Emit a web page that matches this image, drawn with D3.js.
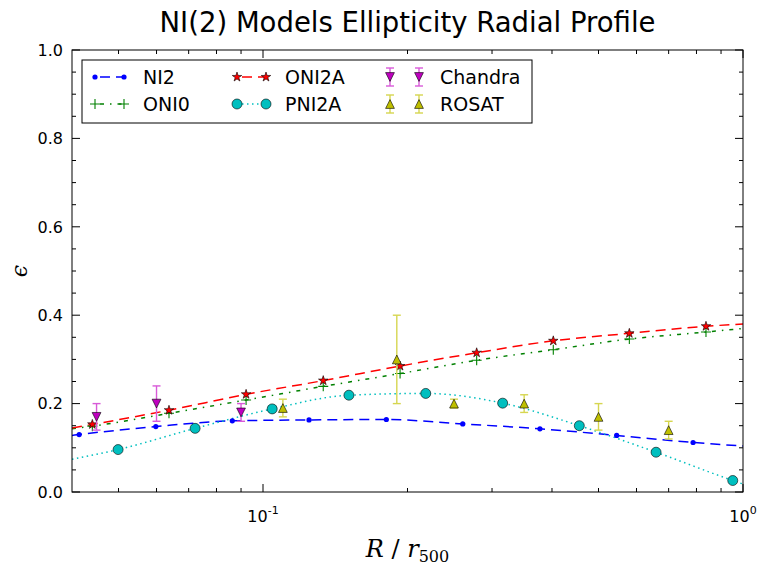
<!DOCTYPE html>
<html>
<head>
	<meta charset="utf-8">
	<title>NI(2) Models Ellipticity Radial Profile</title>
	<style>
		body {
			margin: 0;
			background: white;
		}
		svg {
			display: block;
			font-family: 'DejaVu Sans', sans-serif;
		}
	</style>
</head>
<body>
	<svg width='760' height='565'></svg>
<script src='https://d3js.org/d3.v7.min.js'></script>
<script>
	// ---- data ----
	// model curves: marker points (R / r500, ellipticity)
	let ni2R = [0.0414, 0.0598, 0.0863, 0.1247, 0.1807, 0.2607, 0.3775, 0.5455, 0.787]
	let ni2E = [0.130, 0.148, 0.161, 0.163, 0.164, 0.154, 0.143, 0.128, 0.112]
	let ni2Ends = [[0.04, 0.128], [1.0, 0.104]]

	let oni0R = [0.0441, 0.0637, 0.0922, 0.1335, 0.193, 0.2787, 0.4025, 0.5797, 0.8373]
	let oni0E = [0.149, 0.178, 0.208, 0.239, 0.268, 0.298, 0.322, 0.346, 0.362]
	let oni0Ends = [[0.04, 0.143], [1.0, 0.370]]

	let oni2aR = [0.0441, 0.0637, 0.0922, 0.1335, 0.193, 0.2787, 0.4025, 0.5797, 0.8373]
	let oni2aE = [0.153, 0.185, 0.221, 0.252, 0.285, 0.315, 0.342, 0.359, 0.375]
	let oni2aEnds = [[0.04, 0.145], [1.0, 0.380]]

	let pni2aR = [0.0499, 0.0722, 0.1045, 0.151, 0.2183, 0.3157, 0.456, 0.659, 0.952]
	let pni2aE = [0.096, 0.144, 0.188, 0.219, 0.223, 0.201, 0.150, 0.090, 0.026]
	let pni2aEnds = [[0.04, 0.074], [1.0, 0.018]]

	// observations with error bars
	let chandraR = [0.045, 0.060, 0.090]
	let chandraE = [0.17, 0.20, 0.18]
	let chandraErr = [0.03, 0.04, 0.02]

	let rosatR = [0.11, 0.19, 0.25, 0.35, 0.50, 0.70]
	let rosatE = [0.19, 0.30, 0.20, 0.20, 0.17, 0.14]
	let rosatErr = [0.02, 0.10, 0.01, 0.02, 0.03, 0.02]

	let yTicks = [0.0, 0.2, 0.4, 0.6, 0.8, 1.0]
	let yMinor = d3.range(0.05, 1.0, 0.05)
	let xTicks = [0.1, 1.0]
	let xTickLabels = ['-1', '0']
	let xMinor = [0.05, 0.06, 0.07, 0.08, 0.09, 0.2, 0.3, 0.4, 0.5, 0.6, 0.7, 0.8, 0.9]

	// ---- layout ----
	let pLeft = 72, pRight = 743, pTop = 50, pBottom = 492

	let svg = d3.select('svg')

	let x = d3.scaleLog().domain([0.04, 1]).range([pLeft, pRight])
	let y = d3.scaleLinear().domain([0, 1]).range([pBottom, pTop])

	svg.append('clipPath').attr('id', 'clip')
		.append('rect')
		.attr('x', pLeft).attr('y', pTop)
		.attr('width', pRight - pLeft).attr('height', pBottom - pTop)

	let plot = svg.append('g').attr('clip-path', 'url(#clip)')

	function pts(rs, es) {
		return rs.map((r, i) => [r, es[i]])
	}
	function withEnds(rs, es, ends) {
		return [ends[0]].concat(pts(rs, es), [ends[1]])
	}

	let line = d3.line()
		.x(d => x(d[0]))
		.y(d => y(d[1]))
		.curve(d3.curveMonotoneX)

	let models = [
		{name: 'NI2', data: withEnds(ni2R, ni2E, ni2Ends), color: '#0000ff', dash: '10,6', marker: 'dot'},
		{name: 'ONI0', data: withEnds(oni0R, oni0E, oni0Ends), color: '#008000', dash: '4,6,1.5,6', marker: 'plus'},
		{name: 'ONI2A', data: withEnds(oni2aR, oni2aE, oni2aEnds), color: '#ff0000', dash: '10,6', marker: 'star'},
		{name: 'PNI2A', data: withEnds(pni2aR, pni2aE, pni2aEnds), color: '#00bfbf', dash: '1.5,3.5', marker: 'circle'}
	]

	let obs = [
		{name: 'Chandra', data: chandraR.map((r, i) => [r, chandraE[i], chandraErr[i]]), color: '#bf00bf', bar: '#d85ad8', marker: 'down'},
		{name: 'ROSAT', data: rosatR.map((r, i) => [r, rosatE[i], rosatErr[i]]), color: '#bfbf00', bar: '#d6d650', marker: 'up'}
	]

	// draws one marker at px,py
	function drawMarker(g, type, px, py, color) {
		if (type == 'dot') {
			g.append('circle').attr('cx', px).attr('cy', py).attr('r', 2.6)
				.style('fill', color)
		} else if (type == 'plus') {
			g.append('path')
				.attr('d', `M${px - 5},${py}H${px + 5}M${px},${py - 5}V${py + 5}`)
				.style('stroke', color).style('stroke-width', 1.1).style('fill', 'none')
		} else if (type == 'star') {
			g.append('path')
				.attr('d', d3.symbol().type(d3.symbolStar).size(28)())
				.attr('transform', `translate(${px},${py})`)
				.style('fill', color).style('stroke', 'black').style('stroke-width', 0.6)
		} else if (type == 'circle') {
			g.append('circle').attr('cx', px).attr('cy', py).attr('r', 5)
				.style('fill', color).style('stroke', 'black').style('stroke-width', 0.6)
		} else if (type == 'up' || type == 'down') {
			let s = 4.4
			let k = type == 'up' ? 1 : -1
			g.append('path')
				.attr('d', `M${px},${py - k * s}L${px - s},${py + k * s}L${px + s},${py + k * s}Z`)
				.style('fill', color).style('stroke', 'black').style('stroke-width', 0.6)
		}
	}

	function drawErrbar(g, px, yLo, yHi, color) {
		g.append('line').attr('x1', px).attr('x2', px).attr('y1', yLo).attr('y2', yHi)
			.style('stroke', color).style('stroke-width', 1.4)
		;[yLo, yHi].forEach(yy => {
			g.append('line').attr('x1', px - 4).attr('x2', px + 4).attr('y1', yy).attr('y2', yy)
				.style('stroke', color).style('stroke-width', 1.4)
		})
	}

	// model lines + markers
	models.forEach(m => {
		plot.append('path')
			.datum(m.data)
			.attr('d', line)
			.style('fill', 'none')
			.style('stroke', m.color)
			.style('stroke-width', 1.5)
			.style('stroke-dasharray', m.dash)
	})
	models.forEach(m => {
		let g = plot.append('g')
		m.data.slice(1, -1).forEach(d => drawMarker(g, m.marker, x(d[0]), y(d[1]), m.color))
	})

	// observations
	obs.forEach(o => {
		let g = plot.append('g')
		o.data.forEach(d => {
			drawErrbar(g, x(d[0]), y(d[1] - d[2]), y(d[1] + d[2]), o.bar)
			drawMarker(g, o.marker, x(d[0]), y(d[1]), o.color)
		})
	})

	// ---- axes frame and ticks (inward, all four sides) ----
	let axes = svg.append('g').style('stroke', 'black').style('stroke-width', 1)

	axes.append('rect')
		.attr('x', pLeft).attr('y', pTop)
		.attr('width', pRight - pLeft).attr('height', pBottom - pTop)
		.style('fill', 'none')

	yTicks.forEach(t => {
		axes.append('line').attr('x1', pLeft).attr('x2', pLeft + 8).attr('y1', y(t)).attr('y2', y(t))
		axes.append('line').attr('x1', pRight).attr('x2', pRight - 8).attr('y1', y(t)).attr('y2', y(t))
	})
	yMinor.filter(t => Math.abs(t * 5 - Math.round(t * 5)) > 1e-6).forEach(t => {
		axes.append('line').attr('x1', pLeft).attr('x2', pLeft + 4).attr('y1', y(t)).attr('y2', y(t))
		axes.append('line').attr('x1', pRight).attr('x2', pRight - 4).attr('y1', y(t)).attr('y2', y(t))
	})
	xTicks.forEach(t => {
		axes.append('line').attr('x1', x(t)).attr('x2', x(t)).attr('y1', pBottom).attr('y2', pBottom - 8)
		axes.append('line').attr('x1', x(t)).attr('x2', x(t)).attr('y1', pTop).attr('y2', pTop + 8)
	})
	xMinor.forEach(t => {
		axes.append('line').attr('x1', x(t)).attr('x2', x(t)).attr('y1', pBottom).attr('y2', pBottom - 4)
		axes.append('line').attr('x1', x(t)).attr('x2', x(t)).attr('y1', pTop).attr('y2', pTop + 4)
	})

	// tick labels
	svg.append('g')
		.selectAll('text')
		.data(yTicks)
		.join('text')
		.attr('x', pLeft - 9)
		.attr('y', d => y(d))
		.attr('dy', '0.36em')
		.attr('text-anchor', 'end')
		.style('font-size', '16px')
		.text(d => d3.format('.1f')(d))

	let xl = svg.append('g')
		.selectAll('text')
		.data(xTicks)
		.join('text')
		.attr('x', d => x(d))
		.attr('y', pBottom + 30)
		.attr('text-anchor', 'middle')
		.style('font-size', '16px')
	xl.append('tspan').text('10')
	xl.append('tspan')
		.attr('dy', -8)
		.style('font-size', '11px')
		.text((d, i) => xTickLabels[i])

	// title and axis labels
	svg.append('text')
		.attr('x', (pLeft + pRight) / 2)
		.attr('y', 32)
		.attr('text-anchor', 'middle')
		.style('font-size', '27.5px')
		.text('NI(2) Models Ellipticity Radial Profile')

	let xlab = svg.append('text')
		.attr('x', (pLeft + pRight) / 2)
		.attr('y', 557)
		.attr('text-anchor', 'middle')
		.style('font-family', "'DejaVu Serif', serif")
		.style('font-size', '24px')
	xlab.append('tspan').style('font-style', 'italic').text('R')
	xlab.append('tspan').text(' / ')
	xlab.append('tspan').style('font-style', 'italic').text('r')
	xlab.append('tspan').attr('dy', 5).style('font-size', '16px').text('500')

	svg.append('text')
		.attr('transform', `translate(27,${(pTop + pBottom) / 2}) rotate(-90)`)
		.attr('text-anchor', 'middle')
		.style('font-family', "'DejaVu Serif', serif")
		.style('font-style', 'italic')
		.style('font-size', '22px')
		.text('ϵ')

	// ---- legend ----
	let lg = svg.append('g')
	lg.append('rect')
		.attr('x', 82).attr('y', 60).attr('width', 450).attr('height', 63)
		.style('fill', 'white').style('stroke', 'black').style('stroke-width', 1)

	let entries = [
		{item: models[0], hx: 95, tx: 143, ty: 77},
		{item: models[1], hx: 95, tx: 143, ty: 104},
		{item: models[2], hx: 237, tx: 285, ty: 77},
		{item: models[3], hx: 237, tx: 285, ty: 104},
		{item: obs[0], hx: 390, tx: 440, ty: 77},
		{item: obs[1], hx: 390, tx: 440, ty: 104}
	]

	entries.forEach(e => {
		let it = e.item
		let g = lg.append('g')
		let xs = [e.hx, e.hx + 29]
		if (it.dash) {
			g.append('line')
				.attr('x1', xs[0]).attr('x2', xs[1]).attr('y1', e.ty).attr('y2', e.ty)
				.style('stroke', it.color).style('stroke-width', 1.5)
				.style('stroke-dasharray', it.dash)
				.style('stroke-dashoffset', -5)
			xs.forEach(px => drawMarker(g, it.marker, px, e.ty, it.color))
		} else {
			xs.forEach(px => {
				drawErrbar(g, px, e.ty + 9, e.ty - 9, it.bar)
				drawMarker(g, it.marker, px, e.ty, it.color)
			})
		}
		g.append('text')
			.attr('x', e.tx)
			.attr('y', e.ty)
			.attr('dy', '0.36em')
			.style('font-size', '19px')
			.text(it.name)
	})
</script>
</body>
</html>
